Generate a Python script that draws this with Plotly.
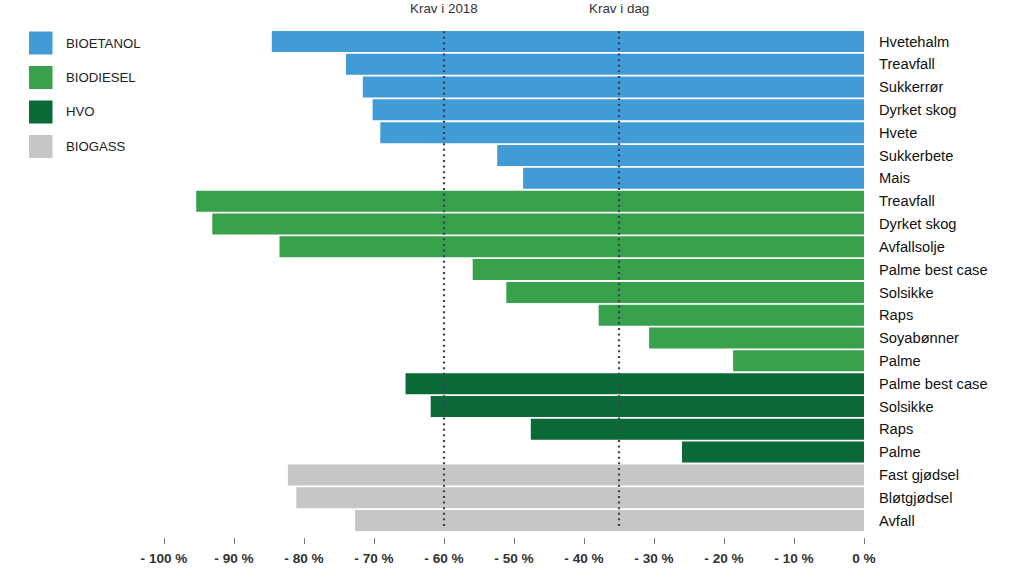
import plotly.graph_objects as go

# ---- data ----
group_names = ["BIOETANOL", "BIODIESEL", "HVO", "BIOGASS"]
group_colors = ["#409bd6", "#36a14a", "#0b6937", "#c6c6c6"]

bioetanol_labels = ["Hvetehalm", "Treavfall", "Sukkerrør", "Dyrket skog", "Hvete", "Sukkerbete", "Mais"]
bioetanol_values = [-84.6, -74.0, -71.6, -70.2, -69.1, -52.4, -48.7]

biodiesel_labels = ["Treavfall", "Dyrket skog", "Avfallsolje", "Palme best case", "Solsikke", "Raps", "Soyabønner", "Palme"]
biodiesel_values = [-95.4, -93.1, -83.5, -55.9, -51.1, -37.9, -30.7, -18.7]

hvo_labels = ["Palme best case", "Solsikke", "Raps", "Palme"]
hvo_values = [-65.5, -61.9, -47.6, -26.0]

biogass_labels = ["Fast gjødsel", "Bløtgjødsel", "Avfall"]
biogass_values = [-82.3, -81.1, -72.7]

x_tickvals = [-100, -90, -80, -70, -60, -50, -40, -30, -20, -10, 0]
x_ticktext = ["- 100 %", "- 90 %", "- 80 %", "- 70 %", "- 60 %", "- 50 %", "- 40 %", "- 30 %", "- 20 %", "- 10 %", "0 %"]

thresholds = [-60, -35]
threshold_labels = ["Krav i 2018", "Krav i dag"]

# ---- layout geometry (body margin removed via post_script) ----
W, H = 1024, 586
ML, MR, MT, MB = 164, 160, 30, 49
PW, PH = W - ML - MR, H - MT - MB

def px_x(px):
    return (px - ML) / PW

def px_y(py):
    return 1 - (py - MT) / PH

FONT = "Liberation Sans, Helvetica, Arial, sans-serif"

groups = [
    (bioetanol_labels, bioetanol_values),
    (biodiesel_labels, biodiesel_values),
    (hvo_labels, hvo_values),
    (biogass_labels, biogass_values),
]

fig = go.Figure()
all_labels = []
idx = 0
for (labels, values), name, color in zip(groups, group_names, group_colors):
    ys = list(range(idx, idx + len(labels)))
    idx += len(labels)
    all_labels += labels
    fig.add_trace(go.Bar(
        x=values, y=ys, orientation="h", name=name,
        marker=dict(color=color, line=dict(width=0)),
        showlegend=False, hoverinfo="x+y",
    ))

n = len(all_labels)
extra = 0.22

shapes = []
annotations = []
for t, lab in zip(thresholds, threshold_labels):
    shapes.append(dict(type="line", xref="x", yref="y", x0=t, x1=t,
                       y0=-0.94, y1=n - 0.5 - 0.22,
                       line=dict(color="#3b4256", width=2.2, dash="2px,3.6px"),
                       layer="above"))
    annotations.append(dict(x=t, xref="x", y=px_y(8), yref="paper",
                            text=lab, showarrow=False, xanchor="center", yanchor="middle",
                            font=dict(family=FONT, size=13.4, color="#333333")))

# custom legend
legend_rows_y = [43, 77.5, 112, 146.5]
for name, color, cy in zip(group_names, group_colors, legend_rows_y):
    shapes.append(dict(type="rect", xref="paper", yref="paper",
                       x0=px_x(29), x1=px_x(52.5), y0=px_y(cy - 11.5), y1=px_y(cy + 11.5),
                       fillcolor=color, line=dict(width=0)))
    annotations.append(dict(x=px_x(64.5), xref="paper", y=px_y(cy), yref="paper",
                            text=name, showarrow=False, xanchor="left", yanchor="middle",
                            font=dict(family=FONT, size=13.2, color="#222222")))

fig.update_layout(
    width=W, height=H,
    margin=dict(l=ML, r=MR, t=MT, b=MB, pad=0),
    paper_bgcolor="white", plot_bgcolor="white",
    barmode="overlay", bargap=0.08,
    shapes=shapes, annotations=annotations,
    xaxis=dict(range=[-100, 0], tickvals=x_tickvals, ticktext=x_ticktext,
               showgrid=False, zeroline=False, showline=False,
               ticks="outside", ticklen=6, tickwidth=1, tickcolor="#777777",
               ticklabelstandoff=3,
               tickfont=dict(family=FONT, size=13.6, color="#333333", weight="bold"),
               fixedrange=True),
    yaxis=dict(range=[n - 0.5 + extra, -0.5], tickvals=list(range(n)), ticktext=all_labels,
               side="right", showgrid=False, zeroline=False, showline=False,
               ticks="", ticklabelstandoff=14,
               tickfont=dict(family=FONT, size=14.7, color="#111111"),
               fixedrange=True),
    font=dict(family=FONT),
)

fig.write_html("out.html",
               config={"displayModeBar": False},
               post_script="document.body.style.margin='0';document.body.style.overflow='hidden';")
